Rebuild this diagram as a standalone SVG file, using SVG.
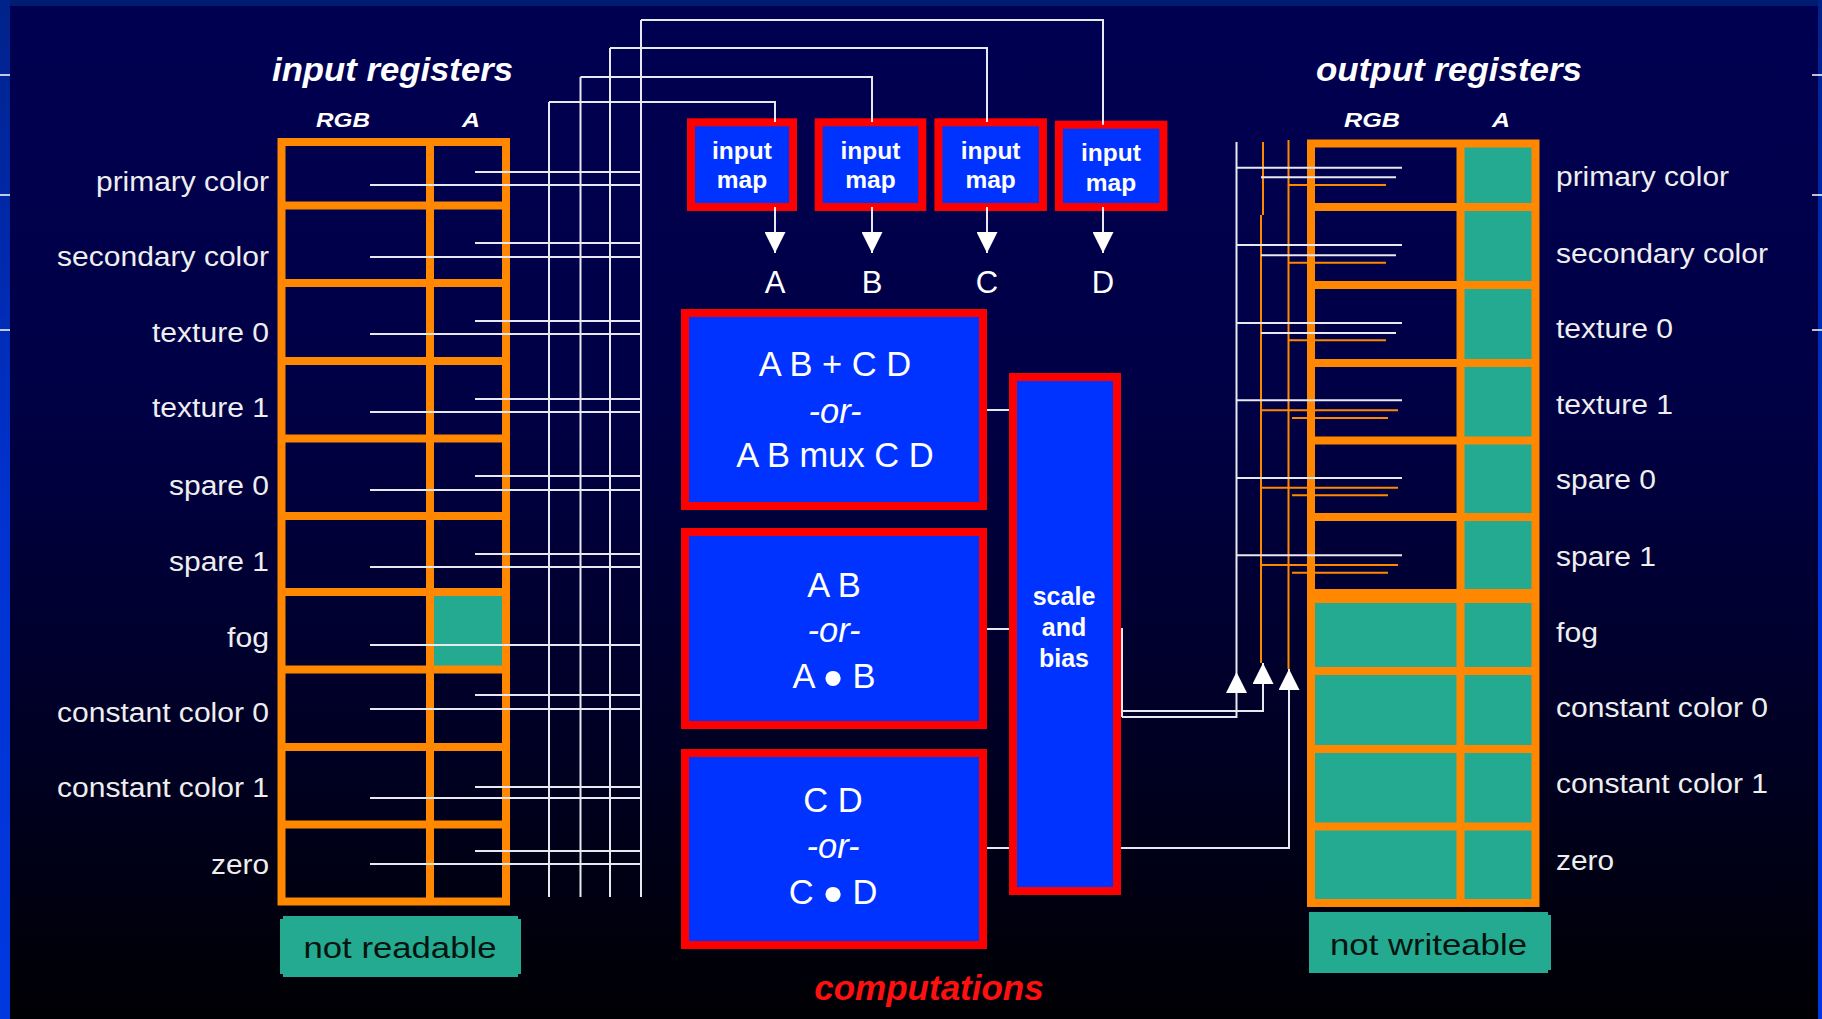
<svg xmlns="http://www.w3.org/2000/svg" width="1822" height="1019" viewBox="0 0 1822 1019">
<defs>
<linearGradient id="bg" x1="0" y1="0" x2="0" y2="1">
<stop offset="0" stop-color="#000052"/>
<stop offset="0.4" stop-color="#000045"/>
<stop offset="0.75" stop-color="#000022"/>
<stop offset="1" stop-color="#000003"/>
</linearGradient>
<linearGradient id="band" x1="0" y1="0" x2="0" y2="1">
<stop offset="0" stop-color="#00228a"/>
<stop offset="0.5" stop-color="#0032d0"/>
<stop offset="1" stop-color="#0038e0"/>
</linearGradient>
<marker id="ah" viewBox="0 0 21 21" refX="21" refY="10.5" markerWidth="21" markerHeight="21" markerUnits="userSpaceOnUse" orient="auto">
<path d="M0,0 L21,10.5 L0,21 Z" fill="#ffffff"/>
</marker>
<style>
text{font-family:"Liberation Sans",Arial,Helvetica,sans-serif}
.lbl{fill:#eeeeee;font-size:27px}
.ttl{fill:#ffffff;font-size:33px;font-weight:bold;font-style:italic}
.hdr{fill:#ffffff;font-size:21px;font-weight:bold;font-style:italic}
.cmp{fill:#ffffff;font-size:34.5px}
.it{font-style:italic}
.map{fill:#ffffff;font-size:24.5px;font-weight:bold}
.abcd{fill:#ffffff;font-size:31px}
.grid{fill:none;stroke:#ff8800;stroke-width:8}
.teal{fill:#24aa90}
.box{fill:#0033ff;stroke:#ff0000;stroke-width:8}
.w{fill:none;stroke:#e8e8f0;stroke-width:2}
.o{fill:none;stroke:#ff8800;stroke-width:2}
.note{fill:#06140f;font-size:30px}
</style>
</defs>

<!-- background -->
<rect x="0" y="0" width="1822" height="1019" fill="url(#bg)"/>
<rect x="0" y="0" width="1822" height="6" fill="#001c70"/>
<rect x="0" y="0" width="10" height="1019" fill="url(#band)"/>
<rect x="1818" y="0" width="4" height="1019" fill="url(#band)"/>
<g stroke="#ffffff" stroke-width="1.5">
<line x1="0" y1="75" x2="10" y2="75"/>
<line x1="0" y1="195" x2="10" y2="195"/>
<line x1="0" y1="330" x2="10" y2="330"/>
<line x1="1812" y1="75" x2="1822" y2="75"/>
<line x1="1812" y1="195" x2="1822" y2="195"/>
<line x1="1812" y1="330" x2="1822" y2="330"/>
</g>

<!-- input registers -->
<g id="input-registers">
<text class="ttl" x="272" y="81" textLength="241" lengthAdjust="spacingAndGlyphs">input registers</text>
<text class="hdr" x="316" y="127" textLength="54" lengthAdjust="spacingAndGlyphs">RGB</text>
<text class="hdr" x="462" y="127" textLength="18" lengthAdjust="spacingAndGlyphs">A</text>
<rect class="teal" x="430" y="592" width="76" height="77.5"/>
<rect class="grid" x="281.5" y="142" width="224.5" height="759.5"/>
<path class="grid" d="M430,142 V901.5 M281.5,205.5 H506 M281.5,283 H506 M281.5,361 H506 M281.5,438.5 H506 M281.5,516 H506 M281.5,592 H506 M281.5,669.5 H506 M281.5,747 H506 M281.5,824.5 H506"/>
<text class="lbl" x="96" y="190.5" textLength="173" lengthAdjust="spacingAndGlyphs">primary color</text>
<text class="lbl" x="57" y="266" textLength="212" lengthAdjust="spacingAndGlyphs">secondary color</text>
<text class="lbl" x="152" y="341.5" textLength="117" lengthAdjust="spacingAndGlyphs">texture 0</text>
<text class="lbl" x="152" y="417" textLength="117" lengthAdjust="spacingAndGlyphs">texture 1</text>
<text class="lbl" x="169" y="495" textLength="100" lengthAdjust="spacingAndGlyphs">spare 0</text>
<text class="lbl" x="169" y="571" textLength="100" lengthAdjust="spacingAndGlyphs">spare 1</text>
<text class="lbl" x="227" y="647" textLength="42" lengthAdjust="spacingAndGlyphs">fog</text>
<text class="lbl" x="57" y="721.5" textLength="212" lengthAdjust="spacingAndGlyphs">constant color 0</text>
<text class="lbl" x="57" y="797" textLength="212" lengthAdjust="spacingAndGlyphs">constant color 1</text>
<text class="lbl" x="211" y="874" textLength="58" lengthAdjust="spacingAndGlyphs">zero</text>
</g>

<g id="not-readable">
<path class="teal" d="M283,916 H518 V919 H521 V974 H518 V977 H283 V974 H280 V919 H283 Z"/>
<text class="note" x="303.5" y="958" textLength="193" lengthAdjust="spacingAndGlyphs">not readable</text>
</g>

<!-- output registers -->
<g id="output-registers">
<text class="ttl" x="1316" y="81" textLength="266" lengthAdjust="spacingAndGlyphs">output registers</text>
<text class="hdr" x="1344" y="127" textLength="56" lengthAdjust="spacingAndGlyphs">RGB</text>
<text class="hdr" x="1492" y="127" textLength="18" lengthAdjust="spacingAndGlyphs">A</text>
<rect class="teal" x="1460" y="143.5" width="75.5" height="759.5"/>
<rect class="teal" x="1311" y="596" width="150" height="307"/>
<rect class="grid" x="1311" y="143.5" width="224.5" height="759.5"/>
<path class="grid" d="M1460.5,143.5 V903 M1311,207 H1535.5 M1311,285 H1535.5 M1311,363 H1535.5 M1311,440.5 H1535.5 M1311,517 H1535.5 M1311,671 H1535.5 M1311,749 H1535.5 M1311,826.5 H1535.5"/>
<path class="grid" style="stroke-width:14" d="M1311,596 H1535.5"/>
<text class="lbl" x="1556" y="186" textLength="173" lengthAdjust="spacingAndGlyphs">primary color</text>
<text class="lbl" x="1556" y="263" textLength="212" lengthAdjust="spacingAndGlyphs">secondary color</text>
<text class="lbl" x="1556" y="338" textLength="117" lengthAdjust="spacingAndGlyphs">texture 0</text>
<text class="lbl" x="1556" y="414" textLength="117" lengthAdjust="spacingAndGlyphs">texture 1</text>
<text class="lbl" x="1556" y="489" textLength="100" lengthAdjust="spacingAndGlyphs">spare 0</text>
<text class="lbl" x="1556" y="566" textLength="100" lengthAdjust="spacingAndGlyphs">spare 1</text>
<text class="lbl" x="1556" y="642" textLength="42" lengthAdjust="spacingAndGlyphs">fog</text>
<text class="lbl" x="1556" y="717" textLength="212" lengthAdjust="spacingAndGlyphs">constant color 0</text>
<text class="lbl" x="1556" y="793" textLength="212" lengthAdjust="spacingAndGlyphs">constant color 1</text>
<text class="lbl" x="1556" y="870" textLength="58" lengthAdjust="spacingAndGlyphs">zero</text>
</g>

<g id="not-writeable">
<path class="teal" d="M1309,912 H1548 V915 H1551 V970 H1548 V973 H1309 Z"/>
<text class="note" x="1330" y="955" textLength="197" lengthAdjust="spacingAndGlyphs">not writeable</text>
</g>

<!-- input maps -->
<g id="input-map-a">
<rect class="box" x="691" y="122.3" width="102" height="84.7"/>
<text class="map" x="742" y="159.3" text-anchor="middle">input</text>
<text class="map" x="742" y="188.3" text-anchor="middle">map</text>
</g>
<g id="input-map-b">
<rect class="box" x="818.7" y="122.3" width="103.6" height="84.7"/>
<text class="map" x="870.5" y="159.3" text-anchor="middle">input</text>
<text class="map" x="870.5" y="188.3" text-anchor="middle">map</text>
</g>
<g id="input-map-c">
<rect class="box" x="938.4" y="122.3" width="104.5" height="84.7"/>
<text class="map" x="990.6" y="159.3" text-anchor="middle">input</text>
<text class="map" x="990.6" y="188.3" text-anchor="middle">map</text>
</g>
<g id="input-map-d">
<rect class="box" x="1058.9" y="124.7" width="104.5" height="82.3"/>
<text class="map" x="1111" y="160.7" text-anchor="middle">input</text>
<text class="map" x="1111" y="190.7" text-anchor="middle">map</text>
</g>

<g id="operand-labels">
<text class="abcd" x="775" y="293" text-anchor="middle">A</text>
<text class="abcd" x="872" y="293" text-anchor="middle">B</text>
<text class="abcd" x="987" y="293" text-anchor="middle">C</text>
<text class="abcd" x="1103" y="293" text-anchor="middle">D</text>
</g>

<!-- computation boxes -->
<g id="comp-abcd">
<rect class="box" x="685" y="313" width="298" height="193"/>
<text class="cmp" x="835" y="376" text-anchor="middle">A B + C D</text>
<text class="cmp it" x="835" y="423" text-anchor="middle">-or-</text>
<text class="cmp" x="835" y="467" text-anchor="middle">A B mux C D</text>
</g>
<g id="comp-ab">
<rect class="box" x="685" y="532" width="298" height="193"/>
<text class="cmp" x="834" y="597" text-anchor="middle">A B</text>
<text class="cmp it" x="834" y="642" text-anchor="middle">-or-</text>
<text class="cmp" x="834" y="688" text-anchor="middle">A <tspan font-size="56" dy="9">•</tspan><tspan dy="-9"> B</tspan></text>
</g>
<g id="comp-cd">
<rect class="box" x="685" y="753" width="298" height="192"/>
<text class="cmp" x="833" y="812" text-anchor="middle">C D</text>
<text class="cmp it" x="833" y="858" text-anchor="middle">-or-</text>
<text class="cmp" x="833" y="904" text-anchor="middle">C <tspan font-size="56" dy="9">•</tspan><tspan dy="-9"> D</tspan></text>
</g>
<g id="scale-bias">
<rect class="box" x="1013" y="377" width="104" height="514"/>
<text class="map" x="1064" y="605" text-anchor="middle" style="font-size:25px">scale</text>
<text class="map" x="1064" y="636" text-anchor="middle" style="font-size:25px">and</text>
<text class="map" x="1064" y="667" text-anchor="middle" style="font-size:25px">bias</text>
</g>
<g id="computations-label">
<text x="929" y="1000" text-anchor="middle" style="fill:#ff1010;font-size:35px;font-weight:bold;font-style:italic">computations</text>
</g>

<!-- connectors -->
<g id="connectors">
<!-- input bus -->
<path class="w" d="M549,102 V897 M580.5,77 V897 M610,48 V897 M641,20 V897"/>
<path class="w" d="M549,102 H775 V122 M580.5,77 H872 V122 M610,48 H987 V122 M641,20 H1103 V124.7"/>
<path class="w" marker-end="url(#ah)" d="M775,207 V253"/>
<path class="w" marker-end="url(#ah)" d="M872,207 V253"/>
<path class="w" marker-end="url(#ah)" d="M987,207 V253"/>
<path class="w" marker-end="url(#ah)" d="M1103,207 V253"/>
<!-- register taps (A) -->
<path class="w" d="M475,172 H641 M475,243 H641 M475,321 H641 M475,399 H641 M475,476 H641 M475,554 H641 M475,695 H641 M475,787 H641 M475,851 H641"/>
<!-- register taps (RGB) -->
<path class="w" d="M370,185 H641 M370,257 H641 M370,334 H641 M370,412 H641 M370,490 H641 M370,567 H641 M370,645 H641 M370,709 H641 M370,798 H641 M370,864 H641"/>
<!-- into scale and bias -->
<path class="w" d="M987,410 H1009 M987,629 H1009 M987,848 H1009"/>
<!-- out of scale and bias -->
<path class="w" d="M1122,628 V717"/>
<path class="w" marker-end="url(#ah)" d="M1122,717 H1236.5 V672"/>
<path class="w" marker-end="url(#ah)" d="M1122,711 H1263 V663"/>
<path class="w" marker-end="url(#ah)" d="M1121,848 H1289 V669"/>
<!-- output buses -->
<path class="w" d="M1236.5,142 V672"/>
<path class="o" d="M1263,142 V215 M1261,215 V663 M1288.5,140 V669"/>
<!-- output taps -->
<path class="w" d="M1236.5,167.7 H1402 M1236.5,245 H1402 M1236.5,323 H1402 M1236.5,400.3 H1402 M1236.5,478 H1402 M1236.5,555.3 H1402"/>
<path class="w" d="M1261,177.3 H1396 M1261,255.3 H1396 M1261,333 H1396"/>
<path class="o" d="M1288.5,185 H1386 M1288.5,262.7 H1386 M1288.5,340.3 H1386"/>
<path class="o" d="M1261,410.3 H1398 M1261,487.7 H1398 M1261,565 H1398"/>
<path class="o" d="M1292,418 H1388 M1292,495.3 H1388 M1292,572.7 H1388"/>
</g>
</svg>
